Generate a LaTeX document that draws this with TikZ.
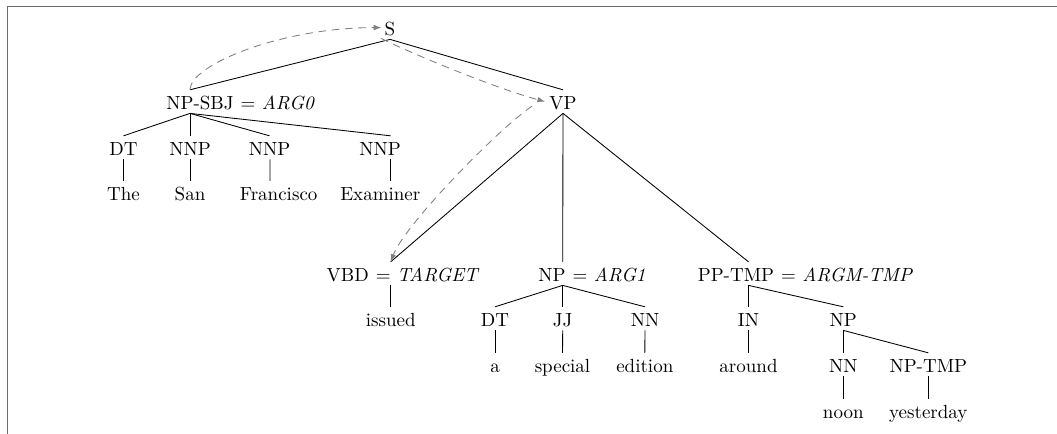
\documentclass[tikz,border=0pt]{standalone}
\usepackage{fontspec}
\usetikzlibrary{calc,arrows.meta}
\begin{document}
\begin{tikzpicture}[x=0.52632pt,y=-0.52632pt,
  tn/.style={anchor=base,inner xsep=0pt,inner ysep=2.1pt,text height=7.8pt,text depth=0pt},
  role/.style={anchor=base west,inner sep=0pt},
  edge/.style={draw=black,line width=0.45pt},
  dep/.style={draw=black!50,dash pattern=on 4pt off 3pt,line width=0.45pt,-{Latex[length=4pt,width=3pt]}},
  frame/.style={draw=black!58,line width=0.8pt,line join=miter}]
\useasboundingbox (0,0) rectangle (1057,433);
\draw[frame] (1060,6.7) -- (7.3,6.7) -- (7.3,436);

% level 0/1
\node[tn] (s) at (390,35) {S};
\node[tn] (npsbj) at (200,109) {NP-SBJ};
\node[role] (npsbjr) at (npsbj.base east) {\ $=$ \textit{ARG0}};
\node[tn] (vp) at (563,109) {VP};

% subject
\node[tn] (dta) at (123.5,155) {DT};
\node[tn] (nnpa) at (190,155) {NNP};
\node[tn] (nnpb) at (269.5,155) {NNP};
\node[tn] (nnpc) at (380,155) {NNP};
\node[tn] (the) at (123.5,200) {The};
\node[tn] (san) at (190,200) {San};
\node[tn] (francisco) at (278.7,200) {Francisco};
\node[tn] (examiner) at (380.3,200) {Examiner};

% VP children
\node[tn] (vbd) at (347.7,281) {VBD};
\node[role] (vbdr) at (vbd.base east) {\ $=$ \textit{TARGET}};
\node[tn] (npa) at (552,281) {NP};
\node[role] (npar) at (npa.base east) {\ $=$ \textit{ARG1}};
\node[tn] (pp) at (736,281) {PP-TMP};
\node[role] (ppr) at (pp.base east) {\ $=$ \textit{ARGM-TMP}};

\node[tn] (issued) at (390.7,326) {issued};
\node[tn] (dtb) at (495,326) {DT};
\node[tn] (jj) at (562.7,326) {JJ};
\node[tn] (nna) at (645,326) {NN};
\node[tn] (in) at (748.5,326) {IN};
\node[tn] (npb) at (843.3,326) {NP};

\node[tn] (a) at (495,372) {a};
\node[tn] (special) at (562.5,372) {special};
\node[tn] (edition) at (644.8,372) {edition};
\node[tn] (around) at (748.5,372) {around};
\node[tn] (nnb) at (843.3,372) {NN};
\node[tn] (nptmp) at (928.3,372) {NP-TMP};

\node[tn] (noon) at (843.3,418) {noon};
\node[tn] (yesterday) at (928.3,418) {yesterday};

% edge anchor points that sit off the text centres
\coordinate (npsbjT) at ($(npsbj.north)+(-10,0)$);
\coordinate (npsbjB) at ($(npsbj.south)+(-10,0)$);
\coordinate (nnpcT) at ($(nnpc.north)+(10.7,0)$);
\coordinate (nnpcB) at ($(nnpc.south)+(10.7,0)$);
\coordinate (franciscoT) at ($(francisco.north)+(-8.7,0)$);
\coordinate (examinerT) at ($(examiner.north)+(10.4,0)$);
\coordinate (vbdT) at ($(vbd.north)+(43,0)$);
\coordinate (vbdB) at ($(vbd.south)+(43,0)$);
\coordinate (npaT) at ($(npa.north)+(10.7,0)$);
\coordinate (npaB) at ($(npa.south)+(10.7,0)$);
\coordinate (ppT) at ($(pp.north)+(12.5,0)$);
\coordinate (ppB) at ($(pp.south)+(12.5,0)$);

% tree edges
\draw[edge] (s.south) -- (npsbjT);
\draw[edge] (s.south) -- (vp.north);
\draw[edge] (npsbjB) -- (dta.north);
\draw[edge] (npsbjB) -- (nnpa.north);
\draw[edge] (npsbjB) -- (nnpb.north);
\draw[edge] (npsbjB) -- (nnpcT);
\draw[edge] (dta.south) -- (the.north);
\draw[edge] (nnpa.south) -- (san.north);
\draw[edge] ($(nnpb.south)+(0.5,0)$) -- (franciscoT);
\draw[edge] (nnpcB) -- (examinerT);
\draw[edge] (vp.south) -- (vbdT);
\draw[edge] (vp.south) -- (npaT);
\draw[edge] (vp.south) -- (ppT);
\draw[edge] (vbdB) -- (issued.north);
\draw[edge] (npaB) -- (dtb.north);
\draw[edge] (npaB) -- (jj.north);
\draw[edge] (npaB) -- (nna.north);
\draw[edge] (dtb.south) -- (a.north);
\draw[edge] (jj.south) -- (special.north);
\draw[edge] (nna.south) -- (edition.north);
\draw[edge] (ppB) -- (in.north);
\draw[edge] (ppB) -- (npb.north);
\draw[edge] (in.south) -- (around.north);
\draw[edge] (npb.south) -- (nnb.north);
\draw[edge] (npb.south) -- (nptmp.north);
\draw[edge] (nnb.south) -- (noon.north);
\draw[edge] (nptmp.south) -- (yesterday.north);

% dashed dependency arcs
\coordinate (sIn) at ($(s.west)+(-3,0)$);
\coordinate (sOut) at ($(s.south)+(-9,-1)$);
\coordinate (vpIn) at ($(vp.west)+(-4,0)$);
\coordinate (vpOut) at ($(vp.west)+(-17,4.5)$);
\draw[dep] (npsbjT) .. controls ($(npsbjT)+(0,-25)$) and ($(sIn)+(-100,0)$) .. (sIn);
\draw[dep] (sOut) .. controls ($(sOut)+(39,19)$) and ($(vpIn)+(-45,-12)$) .. (vpIn);
\draw[dep] (vpOut) .. controls ($(vpOut)+(-35,24)$) and ($(vbdT)+(14,-37)$) .. (vbdT);
\end{tikzpicture}
\end{document}
